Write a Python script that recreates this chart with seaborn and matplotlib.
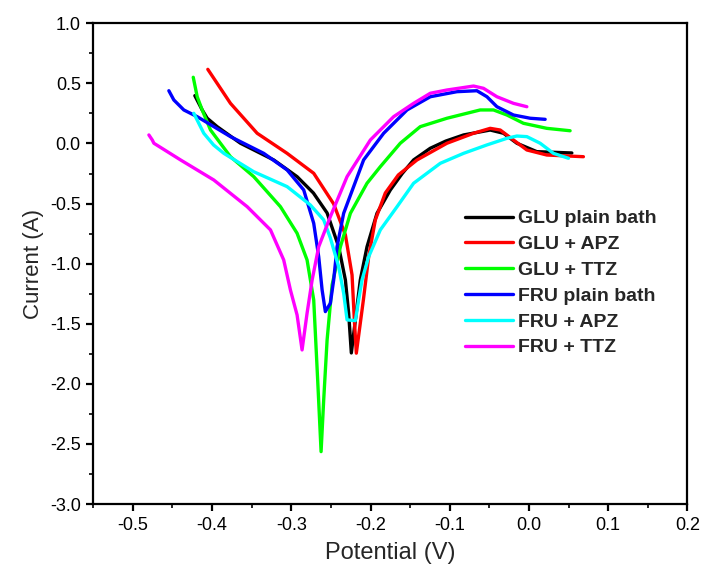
import matplotlib
matplotlib.use("Agg")
import matplotlib.pyplot as plt
from matplotlib.ticker import MultipleLocator
import seaborn as sns
import pandas as pd

# ---- data ----
glu_plain_x = [-0.4218, -0.4125, -0.4062, -0.3936, -0.3642, -0.3222, -0.2927, -0.2721, -0.2548, -0.2402,
               -0.2317, -0.2276, -0.2242, -0.2129, -0.2044, -0.1918, -0.1750, -0.1600, -0.1456, -0.1246,
               -0.1050, -0.0825, -0.0489, -0.0321, -0.0152, 0.0100, 0.0542]
glu_plain_y = [0.398, 0.279, 0.210, 0.140, 0.002, -0.137, -0.276, -0.412, -0.578, -0.859,
               -1.136, -1.413, -1.743, -1.136, -0.859, -0.581, -0.387, -0.250, -0.137, -0.040,
               0.020, 0.071, 0.112, 0.085, 0.002, -0.068, -0.079]

glu_apz_x = [-0.4054, -0.3768, -0.3431, -0.3053, -0.2717, -0.2465, -0.2317, -0.2233, -0.2204, -0.2179,
             -0.2090, -0.2023, -0.1939, -0.1813, -0.1649, -0.1413, -0.1035, -0.0699, -0.0489, -0.0362,
             -0.0195, -0.0026, 0.0226, 0.0688]
glu_apz_y = [0.617, 0.334, 0.085, -0.082, -0.248, -0.503, -0.761, -1.094, -1.468, -1.745,
             -1.302, -0.942, -0.636, -0.412, -0.262, -0.137, 0.002, 0.085, 0.126, 0.112,
             0.029, -0.054, -0.096, -0.110]

glu_ttz_x = [-0.4238, -0.4188, -0.4125, -0.4020, -0.3768, -0.3474, -0.3137, -0.2927, -0.2801, -0.2717,
             -0.2667, -0.2624, -0.2591, -0.2548, -0.2485, -0.2380, -0.2254, -0.2044, -0.1876, -0.1624,
             -0.1372, -0.1035, -0.0615, -0.0447, -0.0278, -0.0069, 0.0226, 0.0520]
glu_ttz_y = [0.551, 0.389, 0.279, 0.112, -0.110, -0.276, -0.526, -0.747, -0.969, -1.302,
             -1.968, -2.564, -2.134, -1.635, -1.177, -0.859, -0.581, -0.331, -0.193, 0.002,
             0.140, 0.210, 0.279, 0.279, 0.237, 0.168, 0.126, 0.106]

fru_plain_x = [-0.4546, -0.4483, -0.4357, -0.4188, -0.3768, -0.3348, -0.3053, -0.2843, -0.2717, -0.2654,
               -0.2611, -0.2570, -0.2507, -0.2465, -0.2422, -0.2339, -0.2213, -0.2087, -0.1834, -0.1539,
               -0.1245, -0.0909, -0.0657, -0.0530, -0.0404, -0.0195, 0.0016, 0.0205]
fru_plain_y = [0.439, 0.362, 0.279, 0.223, 0.057, -0.082, -0.220, -0.387, -0.664, -0.942,
               -1.219, -1.399, -1.330, -1.136, -0.859, -0.581, -0.359, -0.137, 0.085, 0.279,
               0.389, 0.431, 0.439, 0.389, 0.306, 0.237, 0.210, 0.201]

fru_apz_x = [-0.4231, -0.4105, -0.3982, -0.3852, -0.3474, -0.3053, -0.2759, -0.2591, -0.2507, -0.2402,
             -0.2339, -0.2296, -0.2191, -0.2150, -0.2107, -0.2023, -0.1876, -0.1665, -0.1456, -0.1119,
             -0.0825, -0.0530, -0.0278, -0.0152, -0.0026, 0.0142, 0.0310, 0.0499]
fru_apz_y = [0.251, 0.085, -0.012, -0.082, -0.235, -0.359, -0.512, -0.636, -0.786, -1.025,
             -1.246, -1.468, -1.474, -1.302, -1.136, -0.942, -0.719, -0.526, -0.331, -0.165,
             -0.082, -0.012, 0.043, 0.062, 0.057, 0.002, -0.082, -0.123]

fru_ttz_x = [-0.4798, -0.4755, -0.4735, -0.4398, -0.3978, -0.3557, -0.3263, -0.3096, -0.3011, -0.2927,
             -0.2864, -0.2801, -0.2737, -0.2654, -0.2507, -0.2296, -0.2002, -0.1708, -0.1456, -0.1245,
             -0.1035, -0.0699, -0.0573, -0.0404, -0.0195, -0.0026]
fru_ttz_y = [0.071, 0.029, 0.002, -0.137, -0.304, -0.526, -0.719, -0.969, -1.219, -1.427,
             -1.718, -1.413, -1.136, -0.859, -0.609, -0.276, 0.029, 0.223, 0.334, 0.418,
             0.445, 0.478, 0.459, 0.389, 0.334, 0.306]

labels = ["GLU plain bath", "GLU + APZ", "GLU + TTZ", "FRU plain bath", "FRU + APZ", "FRU + TTZ"]
colors = ["#000000", "#FF0000", "#00FF00", "#0000FF", "#00FFFF", "#FF00FF"]
series = [(glu_plain_x, glu_plain_y), (glu_apz_x, glu_apz_y), (glu_ttz_x, glu_ttz_y),
          (fru_plain_x, fru_plain_y), (fru_apz_x, fru_apz_y), (fru_ttz_x, fru_ttz_y)]

sns.set_style("ticks")
plt.rcParams["font.family"] = ["Liberation Sans", "DejaVu Sans"]

fig = plt.figure(figsize=(7.03, 5.77), dpi=100)
ax = fig.add_axes([0.1327, 0.1265, 0.8450, 0.8331])

for (xs, ys), lab, col in zip(series, labels, colors):
    df = pd.DataFrame({"Potential": xs, "Current": ys})
    sns.lineplot(data=df, x="Potential", y="Current", ax=ax, sort=False, estimator=None,
                 color=col, linewidth=2.4, label=lab)

ax.set_xlim(-0.55, 0.2)
ax.set_ylim(-3.0, 1.0)
ax.xaxis.set_minor_locator(MultipleLocator(0.05))
ax.yaxis.set_minor_locator(MultipleLocator(0.25))
ax.set_xticks([-0.5, -0.4, -0.3, -0.2, -0.1, 0.0, 0.1, 0.2])
ax.set_xticklabels(["-0.5", "-0.4", "-0.3", "-0.2", "-0.1", "0.0", "0.1", "0.2"])
ax.set_yticks([1.0, 0.5, 0.0, -0.5, -1.0, -1.5, -2.0, -2.5, -3.0])
ax.set_yticklabels(["1.0", "0.5", "0.0", "-0.5", "-1.0", "-1.5", "-2.0", "-2.5", "-3.0"])

for s in ax.spines.values():
    s.set_visible(True)
    s.set_linewidth(1.6)
    s.set_color("black")
ax.tick_params(which="major", direction="out", length=5, width=1.6, labelsize=13,
               colors="black", top=False, right=False, pad=4)
ax.tick_params(which="minor", direction="out", length=3, width=1.4, top=False, right=False)

ax.set_xlabel("Potential (V)", fontsize=17, labelpad=6)
ax.set_ylabel("Current (A)", fontsize=16, labelpad=4)

leg = ax.legend(loc="upper left", bbox_to_anchor=(0.626, 0.612), frameon=False,
                borderpad=0, borderaxespad=0, handlelength=2.45, handletextpad=0.25,
                labelspacing=0.42, prop={"weight": "bold", "size": 14})
for line in leg.get_lines():
    line.set_linewidth(2.4)

fig.savefig("out.png", dpi=100)
